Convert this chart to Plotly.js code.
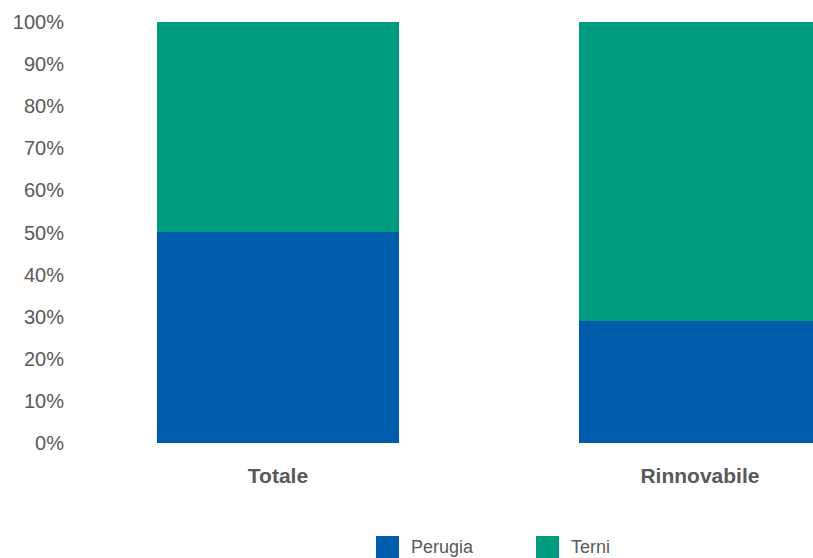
<!DOCTYPE html>
<html>
<head>
<meta charset="utf-8">
<script src="https://cdn.plot.ly/plotly-3.0.1.min.js"></script>
<style>html,body{margin:0;padding:0;background:#fff;}#chart{width:813px;height:558px;}</style>
</head>
<body>
<div id="chart"></div>
<script>
const categories = ["Totale", "Rinnovabile"];
const seriesNames = ["Perugia", "Terni"];
const perugia = [50.1, 29.0];
const terni = [49.9, 71.0];
const yTickVals = [0, 10, 20, 30, 40, 50, 60, 70, 80, 90, 100];
const colors = ["#005baa", "#009b7f"];

const W = 813, H = 558, ML = 67, MR = 0, MT = 22, MB = 115;
const PW = W - ML - MR, PH = H - MT - MB;
const px = x => (x - ML) / PW;
const py = y => (H - MB - y) / PH;

const data = [
  {type: "bar", x: categories, y: perugia, name: seriesNames[0], marker: {color: colors[0]}, showlegend: false, hoverinfo: "skip"},
  {type: "bar", x: categories, y: terni, name: seriesNames[1], marker: {color: colors[1]}, showlegend: false, hoverinfo: "skip"}
];

const legendX = [376, 536];
const shapes = [], annotations = [];
seriesNames.forEach((n, i) => {
  shapes.push({type: "rect", xref: "paper", yref: "paper", x0: px(legendX[i]), x1: px(legendX[i] + 23), y0: py(536), y1: py(558), fillcolor: colors[i], line: {width: 0}});
  annotations.push({xref: "paper", yref: "paper", x: px(legendX[i] + 33), y: py(547), xanchor: "left", yanchor: "middle", text: n, showarrow: false, font: {family: "Liberation Sans, Arial, sans-serif", size: 18, color: "#595959"}});
});

const layout = {
  width: W, height: H,
  margin: {l: ML, r: MR, t: MT, b: MB, pad: 0},
  paper_bgcolor: "#ffffff", plot_bgcolor: "#ffffff",
  barmode: "stack", bargap: 0.427,
  showlegend: false,
  font: {family: "Liberation Sans, Arial, sans-serif", color: "#595959"},
  xaxis: {type: "category", range: [-0.5, 1.268], showgrid: false, zeroline: false, showline: false, ticks: "",
          tickfont: {size: 21, color: "#595959", weight: "bold"}, ticklabelstandoff: 18, fixedrange: true},
  yaxis: {range: [0, 100], tickvals: yTickVals, ticktext: yTickVals.map(v => v + "%"), showgrid: false, zeroline: false, showline: false, ticks: "",
          tickfont: {size: 20, color: "#595959"}, ticklabelstandoff: 2, fixedrange: true},
  shapes: shapes,
  annotations: annotations
};

Plotly.newPlot("chart", data, layout, {staticPlot: true, displayModeBar: false});
</script>
</body>
</html>
